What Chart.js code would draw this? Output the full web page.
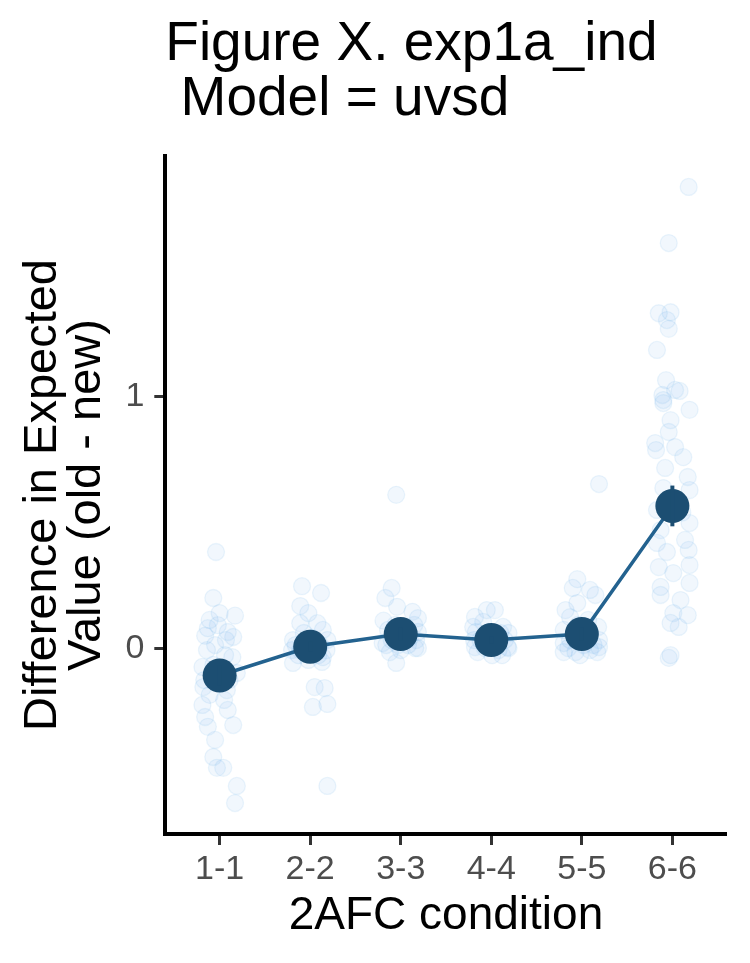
<!DOCTYPE html>
<html>
<head>
<meta charset="utf-8">
<script src="https://cdn.jsdelivr.net/npm/chart.js@4.4.1/dist/chart.umd.min.js"></script>
<style>
  html, body { margin: 0; padding: 0; background: #ffffff; }
  #wrap { width: 750px; height: 963px; }
</style>
</head>
<body>
<div id="wrap"><canvas id="c" width="750" height="963" style="width:750px;height:963px"></canvas></div>
<script>
// ---- data ----
const categories = ['1-1', '2-2', '3-3', '4-4', '5-5', '6-6'];
const meanValues = [-0.108, 0.006, 0.057, 0.033, 0.057, 0.566];
const seValues   = [0.040, 0.020, 0.025, 0.015, 0.025, 0.081];
const yTicks = [0, 1];
const yMin = -0.738, yMax = 1.957;

// individual (jittered) observations: [horizontal jitter, value]
const pts_1_1 = [[-0.04,0.383],[-0.07,0.20],[0.00,0.14],[-0.11,0.113],[-0.13,0.08],[0.09,0.065],[0.15,0.045],
  [-0.14,-0.007],[0.14,-0.035],[-0.19,-0.074],[0.19,-0.098],[-0.18,-0.154],[0.08,-0.166],[-0.19,-0.225],
  [0.09,-0.245],[-0.16,-0.273],[0.15,-0.305],[-0.13,-0.312],[-0.05,-0.364],[-0.07,-0.432],[0.04,-0.475],
  [-0.03,-0.475],[0.19,-0.547],[0.17,-0.615],[-0.16,0.05],[-0.05,0.013],[0.06,-0.027],[-0.07,-0.066],
  [0.11,-0.126],[-0.11,-0.185],[0.05,-0.205],[-0.02,0.092],[0.17,0.13],[-0.17,-0.126],[0.07,0.033]];
const pts_2_2 = [[-0.09,0.247],[0.12,0.22],[-0.11,0.168],[-0.02,0.14],[-0.11,0.10],[0.08,0.10],[0.14,0.073],
  [-0.19,0.033],[-0.19,-0.058],[0.14,-0.035],[0.05,-0.154],[0.16,-0.158],[0.03,-0.233],[0.19,-0.221],
  [0.19,-0.547],[-0.16,0.013],[-0.11,-0.007],[-0.06,0.025],[0.04,-0.015],[0.11,0.013],[0.18,-0.007],
  [-0.13,-0.027],[0.09,-0.027],[-0.02,-0.046],[0.02,0.041],[0.19,0.033],[-0.20,-0.007],[-0.07,0.061],[0.13,-0.054]];
const pts_3_3 = [[-0.05,0.61],[-0.10,0.24],[-0.17,0.20],[-0.04,0.165],[0.13,0.145],[0.19,0.12],[-0.19,0.11],
  [-0.20,0.021],[0.16,0.001],[-0.05,-0.058],[-0.14,0.073],[-0.10,0.033],[0.05,0.081],[0.10,0.041],[0.19,0.065],
  [-0.16,0.013],[-0.03,0.013],[0.08,0.013],[0.17,0.033],[-0.06,0.093],[0.00,-0.007],[0.15,0.093],[-0.12,-0.015],[0.19,0.001]];
const pts_4_4 = [[-0.05,0.152],[0.04,0.152],[-0.18,0.125],[-0.20,0.085],[0.13,0.085],[-0.18,0.005],[0.18,0.005],
  [-0.12,0.033],[-0.07,0.001],[0.08,-0.007],[0.15,0.033],[0.19,0.001],[-0.19,0.033],[-0.15,-0.015],[0.01,-0.027],
  [0.12,-0.027],[-0.03,0.065],[0.10,0.061],[-0.17,0.065],[0.19,0.061],[-0.09,0.105],[0.03,0.013]];
const pts_5_5 = [[0.19,0.653],[-0.05,0.275],[-0.10,0.24],[0.09,0.232],[0.15,0.212],[-0.05,0.18],[-0.13,0.124],
  [-0.20,0.073],[0.18,0.085],[-0.20,0.021],[0.19,0.005],[0.02,0.013],[-0.15,0.001],[-0.07,-0.015],[0.09,-0.007],
  [0.17,-0.015],[-0.13,0.033],[0.04,0.041],[0.19,0.033],[-0.20,-0.015],[-0.02,-0.027],[0.13,0.013],[-0.04,0.093],
  [0.07,0.113],[-0.18,0.152]];
const pts_6_6 = [[0.18,1.834],[-0.04,1.611],[-0.15,1.332],[-0.02,1.336],[-0.06,1.305],[-0.04,1.27],[-0.17,1.186],
  [0.03,1.027],[0.08,1.023],[-0.11,1.007],[-0.10,0.987],[-0.10,0.975],[-0.02,0.907],[-0.04,0.86],[-0.19,0.816],
  [-0.18,0.788],[0.03,0.80],[0.12,0.76],[-0.08,0.717],[0.17,0.681],[0.19,0.629],[-0.10,0.637],[-0.17,0.55],
  [0.19,0.498],[0.14,0.431],[-0.17,0.419],[0.18,0.391],[-0.06,0.383],[-0.15,0.323],[0.19,0.331],[0.01,0.299],
  [-0.13,0.244],[0.19,0.26],[-0.13,0.212],[0.09,0.192],[0.17,0.132],[0.01,0.14],[-0.02,0.101],[0.07,0.085],
  [-0.02,-0.027],[-0.04,-0.038],[0.19,0.948],[-0.07,1.066],[0.11,0.54],[-0.13,0.47]];
const pointsByCategory = [pts_1_1, pts_2_2, pts_3_3, pts_4_4, pts_5_5, pts_6_6];

// ---- build chart ----
const FONT = "'Liberation Sans', Arial, Helvetica, sans-serif";
const jitterData = [];
pointsByCategory.forEach((arr, i) => arr.forEach(p => jitterData.push({ x: i + 1 + p[0], y: p[1] })));
const meanData = meanValues.map((v, i) => ({ x: i + 1, y: v }));

const errorBarPlugin = {
  id: 'errorBars',
  afterDatasetsDraw(chart) {
    const xs = chart.scales.x, ys = chart.scales.y, ctx = chart.ctx;
    ctx.save();
    ctx.strokeStyle = '#1c4e72';
    ctx.lineWidth = 4;
    meanValues.forEach((m, i) => {
      const x = xs.getPixelForValue(i + 1);
      ctx.beginPath();
      ctx.moveTo(x, ys.getPixelForValue(m + seValues[i]));
      ctx.lineTo(x, ys.getPixelForValue(m - seValues[i]));
      ctx.stroke();
    });
    ctx.restore();
  }
};

new Chart(document.getElementById('c'), {
  data: {
    datasets: [
      {
        type: 'line',
        data: meanData,
        borderColor: '#23628f',
        borderWidth: 3.5,
        tension: 0,
        pointRadius: 17,
        pointHoverRadius: 17,
        pointBackgroundColor: '#1c4e72',
        pointBorderWidth: 0,
        order: 1
      },
      {
        type: 'scatter',
        data: jitterData,
        pointRadius: 8.5,
        pointHoverRadius: 8.5,
        backgroundColor: 'rgba(100,170,230,0.09)',
        borderColor: 'rgba(100,170,230,0.12)',
        borderWidth: 1.3,
        order: 2
      }
    ]
  },
  options: {
    responsive: false,
    animation: false,
    events: [],
    layout: { padding: { left: 0, right: 23.3, top: 0, bottom: 0 } },
    plugins: {
      legend: { display: false },
      tooltip: { enabled: false },
      title: {
        display: true,
        text: ['Figure X. exp1a_ind', ' Model = uvsd'],
        fullSize: false,
        align: 'start',
        color: '#000000',
        font: { family: FONT, size: 55, weight: 'normal', lineHeight: 1.0 },
        padding: { top: 17.5, bottom: 28.5 }
      }
    },
    scales: {
      x: {
        type: 'linear',
        min: 0.4, max: 6.6,
        afterBuildTicks: s => { s.ticks = categories.map((c, i) => ({ value: i + 1 })); },
        afterFit: s => { s.height = 129; },
        ticks: {
          callback: v => categories[Math.round(v) - 1],
          color: '#4d4d4d',
          font: { family: FONT, size: 34, lineHeight: 1.2 },
          padding: 4,
          maxRotation: 0,
          autoSkip: false
        },
        grid: { display: true, drawOnChartArea: false, drawTicks: true, tickLength: 11, tickWidth: 3, tickColor: '#333333' },
        border: { display: true, color: '#000000', width: 4 },
        title: {
          display: true,
          text: '2AFC condition',
          color: '#000000',
          font: { family: FONT, size: 46, lineHeight: 1.0 },
          padding: { top: 0, bottom: 24 }
        }
      },
      y: {
        type: 'linear',
        min: yMin, max: yMax,
        afterBuildTicks: s => { s.ticks = yTicks.map(v => ({ value: v })); },
        afterFit: s => { s.width = 165.3; },
        ticks: {
          callback: v => String(v),
          color: '#4d4d4d',
          font: { family: FONT, size: 34, lineHeight: 1.2 },
          padding: 10
        },
        grid: { display: true, drawOnChartArea: false, drawTicks: true, tickLength: 11, tickWidth: 3, tickColor: '#333333' },
        border: { display: true, color: '#000000', width: 4 },
        title: {
          display: true,
          text: ['Difference in Expected', 'Value (old - new)'],
          color: '#000000',
          font: { family: FONT, size: 47, lineHeight: 0.93 },
          padding: { top: 21, bottom: 0 }
        }
      }
    }
  },
  plugins: [errorBarPlugin]
});
</script>
</body>
</html>
